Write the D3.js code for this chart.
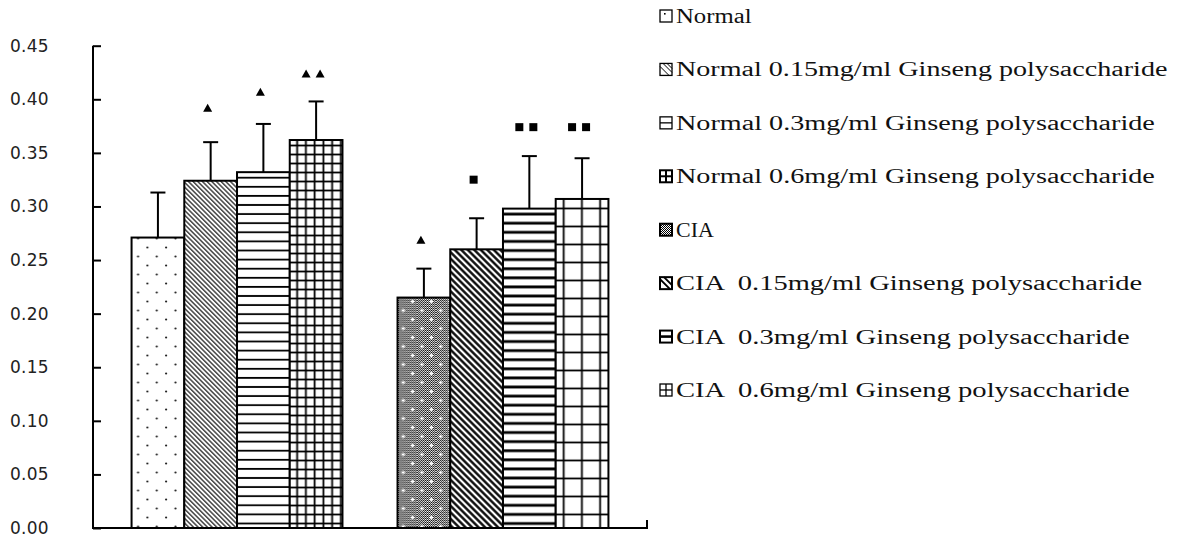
<!DOCTYPE html>
<html>
<head>
<meta charset="utf-8">
<script src="https://cdn.jsdelivr.net/npm/d3@7/dist/d3.min.js"></script>
<style>
  html, body { margin: 0; padding: 0; background: #fff; }
  svg { display: block; }
</style>
</head>
<body>
<svg id="chart" width="1202" height="537"></svg>
<script>
// ---------------- data ----------------
const groups = ["Normal", "CIA"];
const doses = ["0", "0.15", "0.3", "0.6"];
const seriesLabels = [
  "Normal",
  "Normal 0.15mg/ml Ginseng polysaccharide",
  "Normal 0.3mg/ml Ginseng polysaccharide",
  "Normal 0.6mg/ml Ginseng polysaccharide",
  "CIA",
  "CIA  0.15mg/ml Ginseng polysaccharide",
  "CIA  0.3mg/ml Ginseng polysaccharide",
  "CIA  0.6mg/ml Ginseng polysaccharide"
];
const normalValues = [0.271, 0.324, 0.332, 0.362];
const normalErrors = [0.042, 0.036, 0.045, 0.036];
const ciaValues = [0.215, 0.260, 0.298, 0.307];
const ciaErrors = [0.027, 0.029, 0.049, 0.038];
const normalMarks = ["", "▲", "▲", "▲▲"];
const ciaMarks = ["▲", "■", "■■", "■■"];
const normalMarkLevels = [null, 0.392, 0.407, 0.424];
const ciaMarkLevels = [0.269, 0.325, 0.374, 0.374];
const yTickValues = [0, 0.05, 0.10, 0.15, 0.20, 0.25, 0.30, 0.35, 0.40, 0.45];

// ---------------- build ----------------
const svg = d3.select("#chart");
const defs = svg.append("defs");

const plot = { left: 93, right: 647, top: 45.7, bottom: 528 };

const y = d3.scaleLinear().domain([0, 0.45]).range([plot.bottom, plot.top]);
const x0 = d3.scaleBand().domain(groups).range([plot.left, plot.right])
  .paddingInner(0.207).paddingOuter(0.145);
const x1 = d3.scaleBand().domain(doses).range([0, x0.bandwidth()]).padding(0);

const rows = [];
groups.forEach((g, gi) => {
  const vals = gi === 0 ? normalValues : ciaValues;
  const errs = gi === 0 ? normalErrors : ciaErrors;
  const marks = gi === 0 ? normalMarks : ciaMarks;
  const levels = gi === 0 ? normalMarkLevels : ciaMarkLevels;
  doses.forEach((d, di) => {
    rows.push({ group: g, dose: d, series: gi * 4 + di, value: vals[di], err: errs[di],
      mark: marks[di], level: levels[di] });
  });
});

// ---------- patterns ----------
function pat(id, w, h, opts = {}) {
  const p = defs.append("pattern").attr("id", id)
    .attr("patternUnits", "userSpaceOnUse")
    .attr("width", w).attr("height", h);
  if (opts.x != null) p.attr("x", opts.x);
  if (opts.y != null) p.attr("y", opts.y);
  if (opts.transform) p.attr("patternTransform", opts.transform);
  p.append("rect").attr("width", w).attr("height", h).attr("fill", "#fff");
  return p;
}
function barX(i) { const r = rows[i]; return x0(r.group) + x1(r.dose); }

// 0: sparse staggered dots
{
  const p = pat("p0", 18.7, 18, { x: barX(0) + 2, y: 0 });
  p.append("circle").attr("cx", 4.5).attr("cy", 4.5).attr("r", 1.1).attr("fill", "#222");
  p.append("circle").attr("cx", 13.85).attr("cy", 13.5).attr("r", 1.1).attr("fill", "#222");
}
// 1: thin diagonal "\"
{
  const p = pat("p1", 3.3, 10, { transform: "rotate(-45)" });
  p.append("line").attr("x1", 1.6).attr("x2", 1.6).attr("y1", -1).attr("y2", 11)
    .attr("stroke", "#000").attr("stroke-width", 1.1);
}
// 2: horizontal thin lines
{
  const p = pat("p2", 10, 9.1, { y: y(normalValues[2]) + 1 });
  p.append("line").attr("x1", 0).attr("x2", 10).attr("y1", 4.5).attr("y2", 4.5)
    .attr("stroke", "#000").attr("stroke-width", 1.8);
}
// 3: small grid
{
  const p = pat("p3", 8.75, 9, { x: barX(3) + 3, y: y(normalValues[3]) + 1 });
  p.append("line").attr("x1", 0).attr("x2", 8.75).attr("y1", 4.5).attr("y2", 4.5)
    .attr("stroke", "#000").attr("stroke-width", 1.8);
  p.append("line").attr("x1", 4.4).attr("x2", 4.4).attr("y1", 0).attr("y2", 9)
    .attr("stroke", "#000").attr("stroke-width", 1.8);
}
// mesh (checker) for CIA
{
  const m = pat("mesh", 2, 2);
  m.append("rect").attr("width", 1).attr("height", 1).attr("fill", "#000");
  m.append("rect").attr("x", 1).attr("y", 1).attr("width", 1).attr("height", 1).attr("fill", "#000");
  const p = pat("p4", 18.7, 18, { x: barX(4) + 1, y: 0 });
  p.append("rect").attr("width", 18.7).attr("height", 18).attr("fill", "url(#mesh)");
  [[4.6, 4.5], [13.95, 13.5]].forEach(([cx, cy]) => {
    p.append("rect").attr("x", cx - 1.8).attr("y", cy - 0.7).attr("width", 3.6).attr("height", 1.4).attr("fill", "#fff");
    p.append("rect").attr("x", cx - 0.7).attr("y", cy - 1.8).attr("width", 1.4).attr("height", 3.6).attr("fill", "#fff");
  });
}
// 5: thick diagonal "\"
{
  const p = pat("p5", 4.6, 10, { transform: "rotate(-45)" });
  p.append("line").attr("x1", 2.3).attr("x2", 2.3).attr("y1", -1).attr("y2", 11)
    .attr("stroke", "#000").attr("stroke-width", 2.3);
}
// 6: thick horizontal lines
{
  const p = pat("p6", 10, 9.1, { y: y(ciaValues[2]) + 1 });
  p.append("line").attr("x1", 0).attr("x2", 10).attr("y1", 4.5).attr("y2", 4.5)
    .attr("stroke", "#000").attr("stroke-width", 2.8);
}
// 7: large grid
{
  const p = pat("p7", 18.2, 18, { x: barX(7) - 1, y: y(ciaValues[3]) + 1 });
  p.append("line").attr("x1", 0).attr("x2", 18.2).attr("y1", 8.5).attr("y2", 8.5)
    .attr("stroke", "#000").attr("stroke-width", 1.8);
  p.append("line").attr("x1", 9).attr("x2", 9).attr("y1", 0).attr("y2", 18)
    .attr("stroke", "#000").attr("stroke-width", 1.8);
}

// ---------- bars ----------
const g = svg.append("g");
g.selectAll("rect.bar").data(rows).join("rect")
  .attr("class", "bar")
  .attr("x", d => x0(d.group) + x1(d.dose))
  .attr("y", d => y(d.value))
  .attr("width", x1.bandwidth())
  .attr("height", d => y(0) - y(d.value))
  .attr("fill", d => `url(#p${d.series})`)
  .attr("stroke", "#000")
  .attr("stroke-width", 2);

// ---------- error bars ----------
const cx = d => x0(d.group) + x1(d.dose) + x1.bandwidth() / 2;
g.selectAll("line.err").data(rows).join("line")
  .attr("x1", cx).attr("x2", cx)
  .attr("y1", d => y(d.value)).attr("y2", d => y(d.value + d.err))
  .attr("stroke", "#000").attr("stroke-width", 2);
g.selectAll("line.cap").data(rows).join("line")
  .attr("x1", d => cx(d) - 7.5).attr("x2", d => cx(d) + 7.5)
  .attr("y1", d => y(d.value + d.err)).attr("y2", d => y(d.value + d.err))
  .attr("stroke", "#000").attr("stroke-width", 2);

// ---------- significance markers ----------
rows.forEach(d => {
  if (!d.mark) return;
  const chars = Array.from(d.mark);
  const n = chars.length;
  const my = y(d.level);
  chars.forEach((c, k) => {
    const mx = cx(d) - 3 + (k - (n - 1) / 2) * 14;
    if (c === "▲") {
      g.append("path")
        .attr("d", `M${mx - 4.5},${my + 4} L${mx + 4.5},${my + 4} L${mx},${my - 4} Z`)
        .attr("fill", "#000");
    } else {
      g.append("rect").attr("x", mx - 4).attr("y", my - 4)
        .attr("width", 8).attr("height", 8).attr("fill", "#000");
    }
  });
});

// ---------- axes ----------
const yAxis = d3.axisLeft(y).tickValues(yTickValues).tickFormat(d3.format(".2f"))
  .tickSize(-8).tickSizeOuter(0).tickPadding(44);
const ya = svg.append("g").attr("transform", `translate(${plot.left},0)`).call(yAxis);
ya.select(".domain").attr("stroke", "#000").attr("stroke-width", 2)
  .attr("d", `M0,${plot.top}V${plot.bottom}`);
ya.selectAll(".tick line").attr("stroke", "#000").attr("stroke-width", 2);
ya.selectAll(".tick text")
  .attr("font-family", "'DejaVu Sans', sans-serif")
  .attr("font-size", 17)
  .attr("letter-spacing", 0.3)
  .attr("fill", "#222");

// x axis
svg.append("line")
  .attr("x1", plot.left - 1).attr("x2", plot.right)
  .attr("y1", plot.bottom).attr("y2", plot.bottom)
  .attr("stroke", "#000").attr("stroke-width", 2);
svg.append("line")
  .attr("x1", plot.right).attr("x2", plot.right)
  .attr("y1", plot.bottom + 1).attr("y2", plot.bottom - 8)
  .attr("stroke", "#000").attr("stroke-width", 2);

// ---------- legend ----------
const ly = d3.scaleLinear().domain([0, 7]).range([16, 390]);
const leg = svg.append("g");
seriesLabels.forEach((lab, i) => {
  const yy = ly(i);
  const sx = 660, s = 12, sy = yy - s / 2;
  const sg = leg.append("g");
  const heavy = i >= 3 && i !== 7;
  sg.append("rect").attr("x", sx).attr("y", sy).attr("width", s).attr("height", s)
    .attr("fill", i === 4 ? "url(#mesh)" : "#fff")
    .attr("stroke", "#000").attr("stroke-width", heavy ? 2 : 1.3);
  const ln = (x1_, y1_, x2_, y2_, w) => sg.append("line")
    .attr("x1", x1_).attr("y1", y1_).attr("x2", x2_).attr("y2", y2_)
    .attr("stroke", "#000").attr("stroke-width", w);
  if (i === 0) sg.append("rect").attr("x", sx + 4).attr("y", sy + 3).attr("width", 1.6).attr("height", 1.6).attr("fill", "#000");
  if (i === 1) { ln(sx, sy + 3, sx + 9, sy + s, 1); ln(sx + 3, sy, sx + s, sy + 9, 1); ln(sx + 7, sy, sx + s, sy + 5, 1); }
  if (i === 2 || i === 6) ln(sx, sy + s / 2, sx + s, sy + s / 2, i === 6 ? 2.6 : 1.3);
  if (i === 3 || i === 7) { ln(sx, sy + s / 2, sx + s, sy + s / 2, i === 3 ? 2 : 1.3); ln(sx + s / 2, sy, sx + s / 2, sy + s, i === 3 ? 2 : 1.3); }
  if (i === 5) { ln(sx, sy + 2, sx + 10, sy + s, 2); ln(sx + 4, sy, sx + s, sy + 8, 2); }
  const t = leg.append("text")
    .attr("x", 676).attr("y", yy)
    .attr("dy", "0.35em")
    .attr("font-family", "'Liberation Serif', 'Times New Roman', serif")
    .attr("font-size", 20)
    .attr("fill", "#111")
    .style("white-space", "pre")
    .attr("xml:space", "preserve")
    .text(lab);
  t.attr("textLength", Array.from(lab).length * 12.6).attr("lengthAdjust", "spacingAndGlyphs");
});
</script>
</body>
</html>
